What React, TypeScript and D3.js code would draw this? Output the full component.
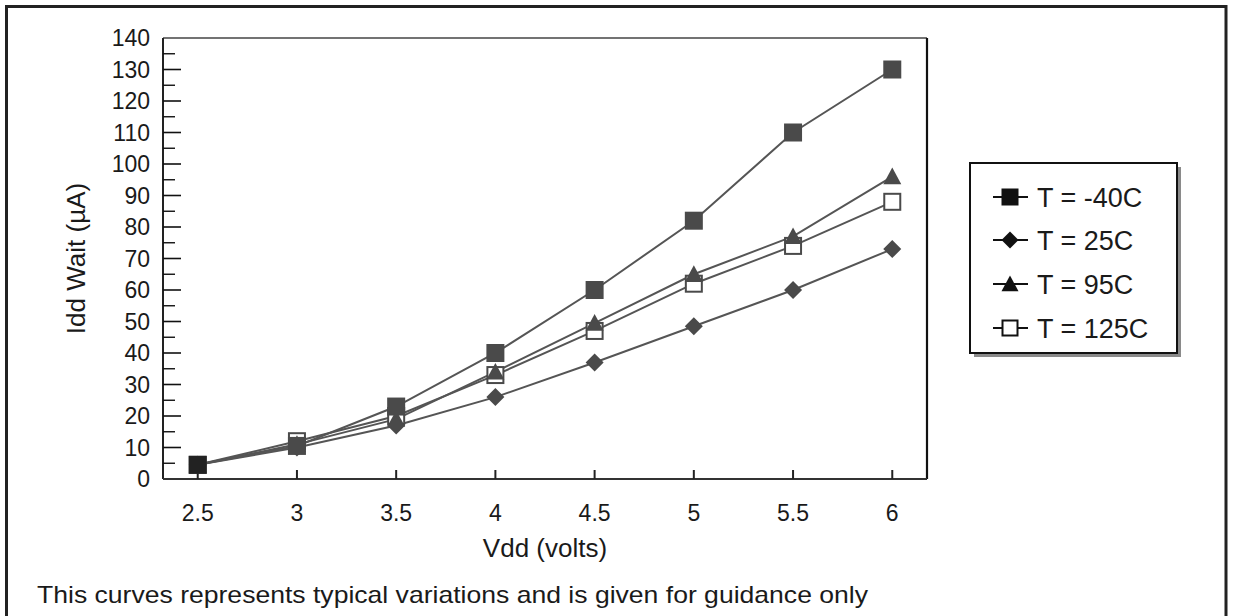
import React from "react";
import * as d3 from "d3";

const vdd = [2.5, 3, 3.5, 4, 4.5, 5, 5.5, 6];
const xTickLabels = ["2.5", "3", "3.5", "4", "4.5", "5", "5.5", "6"];
const tMinus40 = [4.5, 10.5, 23, 40, 60, 82, 110, 130];
const t25 = [4.5, 10, 17, 26, 37, 48.5, 60, 73];
const t95 = [4.5, 11, 19, 34, 49.5, 65, 77, 96];
const t125 = [4.5, 12, 20, 33, 47, 62, 74, 88];
const yTicks = [0, 10, 20, 30, 40, 50, 60, 70, 80, 90, 100, 110, 120, 130, 140];
const seriesNames = ["T = -40C", "T = 25C", "T = 95C", "T = 125C"];
const seriesShapes = ["square", "diamond", "triangle", "open"];

const FONT = "'Liberation Sans', Arial, Helvetica, sans-serif";

function Marker({ shape, x, y, color, size = 18 }: any) {
  const h = size / 2;
  if (shape === "square") return <rect x={x - h} y={y - h} width={size} height={size} fill={color} />;
  if (shape === "open")
    return <rect x={x - h + 1} y={y - h + 1} width={size - 2} height={size - 2} fill="#fff" stroke={color} strokeWidth={2} />;
  if (shape === "diamond")
    return <path d={`M${x},${y - h}L${x + h},${y}L${x},${y + h}L${x - h},${y}Z`} fill={color} />;
  return <path d={`M${x},${y - h}L${x + h},${y + h * 0.85}L${x - h},${y + h * 0.85}Z`} fill={color} />;
}

export default function App() {
  const left = 163, right = 927, top = 38, bottom = 479;
  const x = d3.scaleLinear().domain([2.325, 6.175]).range([left, right]);
  const y = d3.scaleLinear().domain([0, 140]).range([bottom, top]);
  const series = [tMinus40, t25, t95, t125];
  const line = d3.line<number>().x((_, i) => x(vdd[i])).y((v) => y(v));
  const minor = d3.range(5, 140, 10);
  const lineColor = "#555";
  const markColor = "#4a4a4a";
  const drawOrder = [3, 2, 1, 0];

  const legX = 970, legY = 163, legW = 207, legH = 190;
  const rowY = [197, 240, 284, 328];

  return (
    <svg width={1233} height={616} style={{ position: "absolute", left: 0, top: 0, background: "#fff" }} fontFamily={FONT}>
      <rect x={0} y={0} width={1233} height={616} fill="#fff" />
      {/* outer frame */}
      <path d="M6.5,620V6.5H1226V620" fill="none" stroke="#222" strokeWidth={3} />

      {/* plot frame */}
      <line x1={left} y1={top} x2={right} y2={top} stroke="#444" strokeWidth={1.5} />
      <line x1={right} y1={top} x2={right} y2={bottom} stroke="#111" strokeWidth={2.2} />
      <line x1={left} y1={top} x2={left} y2={bottom} stroke="#222" strokeWidth={2} />
      <line x1={left} y1={bottom} x2={right} y2={bottom} stroke="#333" strokeWidth={1.8} />

      {/* y ticks */}
      {yTicks.filter((t) => t > 0 && t < 140).map((t) => (
        <line key={"ym" + t} x1={left} x2={left + 18} y1={y(t)} y2={y(t)} stroke="#111" strokeWidth={1.6} />
      ))}
      {minor.map((t) => (
        <line key={"yn" + t} x1={left} x2={left + 12} y1={y(t)} y2={y(t)} stroke="#111" strokeWidth={1.4} />
      ))}
      {yTicks.map((t) => (
        <text key={"yl" + t} x={150} y={y(t) + 8} textAnchor="end" fontSize={23} fill="#1a1a1a">
          {t}
        </text>
      ))}

      {/* x ticks */}
      {vdd.map((v, i) => (
        <g key={"x" + v}>
          <line x1={x(v)} x2={x(v)} y1={bottom} y2={bottom - 9} stroke="#222" strokeWidth={2} />
          <text x={x(v)} y={521} textAnchor="middle" fontSize={23} fill="#1a1a1a">
            {xTickLabels[i]}
          </text>
        </g>
      ))}

      <text x={(left + right) / 2} y={557} textAnchor="middle" fontSize={26} fill="#1a1a1a">
        Vdd (volts)
      </text>
      <text transform={`translate(85,${(top + bottom) / 2}) rotate(-90)`} textAnchor="middle" fontSize={26} fill="#1a1a1a">
        Idd Wait (µA)
      </text>

      {/* series */}
      {drawOrder.map((k) => (
        <path key={"l" + k} d={line(series[k]) || ""} fill="none" stroke={lineColor} strokeWidth={2} />
      ))}
      {drawOrder.map((k) =>
        series[k].map((v, i) => (
          <Marker key={"m" + k + "-" + i} shape={seriesShapes[k]} x={x(vdd[i])} y={y(v)} color={k === 0 && i === 0 ? "#222" : markColor} />
        ))
      )}

      {/* legend */}
      <rect x={legX + 4} y={legY + 4} width={legW} height={legH} fill="#8a8a8a" />
      <rect x={legX} y={legY} width={legW} height={legH} fill="#fff" stroke="#111" strokeWidth={2} />
      {seriesNames.map((n, k) => (
        <g key={"lg" + k}>
          <line x1={993} x2={1028} y1={rowY[k]} y2={rowY[k]} stroke="#111" strokeWidth={2} />
          <Marker shape={seriesShapes[k]} x={1010} y={rowY[k]} color="#111" size={17} />
          <text x={1037} y={rowY[k] + 10} fontSize={27} fill="#1a1a1a">
            {n}
          </text>
        </g>
      ))}

      <text x={37} y={603} fontSize={24} fill="#1a1a1a" textLength={831} lengthAdjust="spacingAndGlyphs">
        This curves represents typical variations and is given for guidance only
      </text>
    </svg>
  );
}
